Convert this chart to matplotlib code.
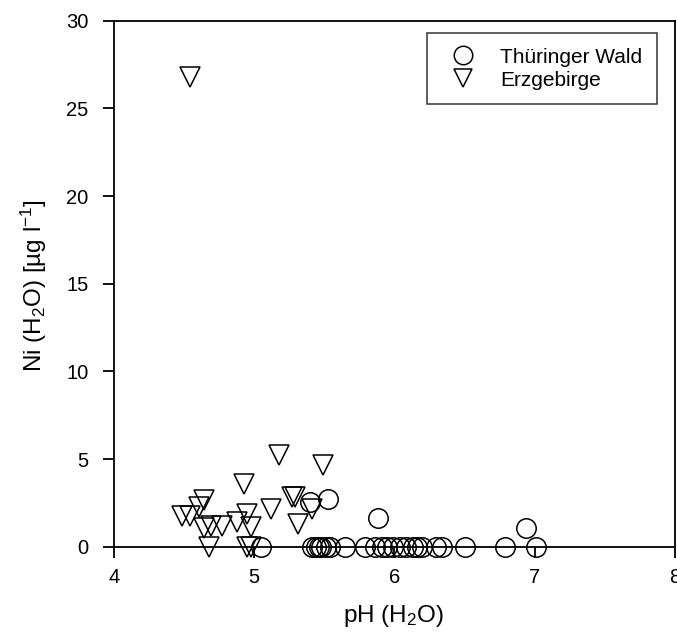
import matplotlib
matplotlib.use("Agg")
import matplotlib.pyplot as plt

plt.rcParams['font.family'] = ['Liberation Sans', 'DejaVu Sans']
plt.rcParams['mathtext.fontset'] = 'custom'
plt.rcParams['mathtext.rm'] = 'Liberation Sans'
plt.rcParams['mathtext.it'] = 'Liberation Sans:italic'
plt.rcParams['mathtext.default'] = 'regular'

# Thüringer Wald (circles)
tw_ph = [5.40, 5.53, 5.88, 6.94,
         5.05, 5.41, 5.44, 5.46, 5.48, 5.51, 5.54, 5.65, 5.79, 5.86, 5.91,
         5.95, 5.99, 6.04, 6.08, 6.13, 6.16, 6.20, 6.30, 6.34, 6.50, 6.79, 7.01]
tw_ni = [2.54, 2.73, 1.65, 1.04,
         0, 0, 0, 0, 0, 0, 0, 0, 0, 0, 0,
         0, 0, 0, 0, 0, 0, 0, 0, 0, 0, 0, 0]

# Erzgebirge (triangles)
eg_ph = [4.54, 5.18, 5.49, 4.93, 5.27, 5.29, 4.64, 4.61, 5.12, 5.41, 4.95,
         4.49, 4.54, 4.88, 5.31, 4.77, 4.69, 4.64, 4.975, 4.68, 4.95, 4.98]
eg_ni = [26.8, 5.24, 4.65, 3.55, 2.85, 2.85, 2.68, 2.26, 2.13, 2.17, 1.89,
         1.73, 1.73, 1.38, 1.28, 1.19, 1.17, 1.07, 1.11, 0, 0, 0]

x_ticks = [4, 5, 6, 7, 8]
y_ticks = [0, 5, 10, 15, 20, 25, 30]

fig = plt.figure(figsize=(6.77, 6.32), dpi=100)
ax = fig.add_axes([0.168, 0.135, 0.829, 0.832])

ax.plot(tw_ph, tw_ni, linestyle='none', marker='o', markersize=14,
        markerfacecolor='none', markeredgecolor='black', markeredgewidth=1.1,
        clip_on=False, label='Thüringer Wald', zorder=3)
ax.plot(eg_ph, eg_ni, linestyle='none', marker='v', markersize=14,
        markerfacecolor='none', markeredgecolor='black', markeredgewidth=1.1,
        clip_on=False, label='Erzgebirge', zorder=3)

ax.set_xlim(4, 8)
ax.set_ylim(0, 30)
ax.set_xticks(x_ticks)
ax.set_yticks(y_ticks)
ax.tick_params(direction='out', length=8, width=1.3, labelsize=14.5)
ax.tick_params(axis='y', pad=10)
ax.tick_params(axis='x', pad=7)
for s in ax.spines.values():
    s.set_linewidth(1.3)

fig.text(393.5 / 677, 1 - 622 / 632, 'pH (H$_2$O)', fontsize=17.5,
         ha='center', va='baseline')
fig.text(34 / 677, 1 - 286 / 632, 'Ni (H$_2$O) [µg l$^{-1}$]', fontsize=17.5,
         ha='center', va='center', rotation=90)

leg = ax.legend(loc='upper right', bbox_to_anchor=(657 / 677, 1 - 33 / 632),
                bbox_transform=fig.transFigure, borderaxespad=0,
                fontsize=15, frameon=True, fancybox=False, edgecolor='black',
                handlelength=2.0, handletextpad=0.8, borderpad=0.7,
                labelspacing=0.2, markerscale=0.95)
leg.get_frame().set_linewidth(1.1)

fig.savefig('out.png', dpi=100)
